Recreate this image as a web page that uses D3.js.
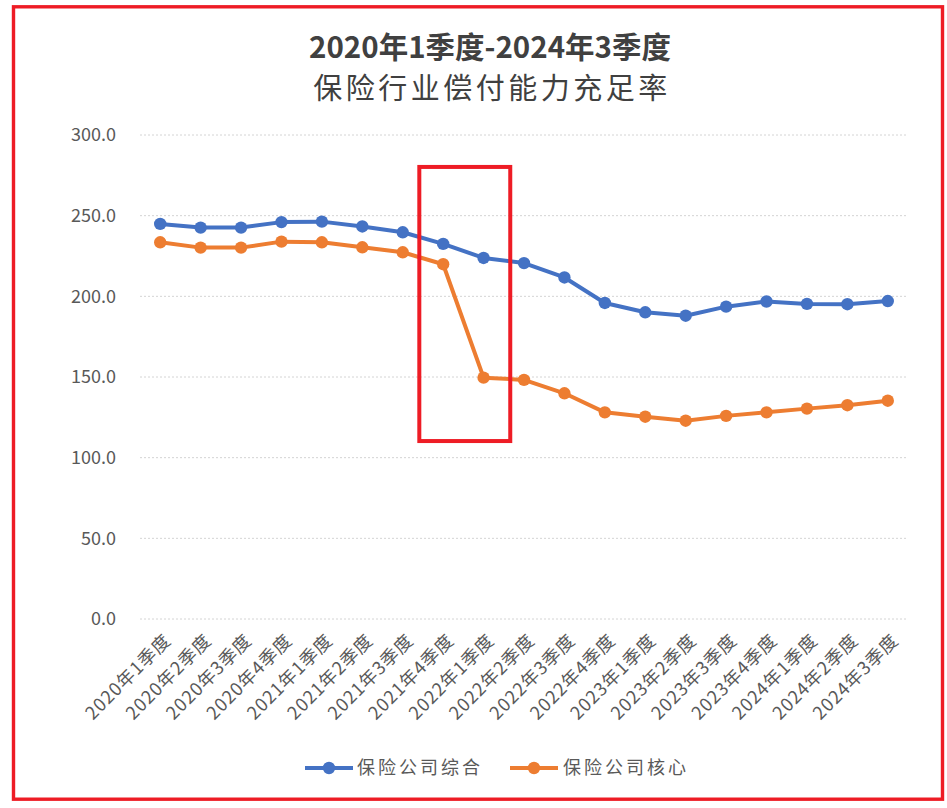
<!DOCTYPE html>
<html>
<head>
<meta charset="utf-8">
<script src="https://cdn.jsdelivr.net/npm/d3@7"></script>
<style>
  html, body { margin: 0; padding: 0; background: #fff; }
  svg { display: block; }
  text { font-family: "Noto Sans CJK SC", "Noto Sans", sans-serif; }
</style>
</head>
<body>
<svg id="chart" width="947" height="808"></svg>
<script>
const categories = [
  "2020年1季度","2020年2季度","2020年3季度","2020年4季度",
  "2021年1季度","2021年2季度","2021年3季度","2021年4季度",
  "2022年1季度","2022年2季度","2022年3季度","2022年4季度",
  "2023年1季度","2023年2季度","2023年3季度","2023年4季度",
  "2024年1季度","2024年2季度","2024年3季度"
];
const comprehensive = [244.9, 242.6, 242.6, 246.0, 246.3, 243.3, 239.7, 232.5, 223.8, 220.6, 211.7, 195.9, 190.1, 188.0, 193.6, 196.8, 195.3, 195.1, 197.1];
const core = [233.5, 230.2, 230.2, 233.9, 233.5, 230.4, 227.3, 219.9, 149.6, 148.2, 139.9, 128.1, 125.4, 122.9, 125.9, 128.1, 130.4, 132.5, 135.3];
const seriesNames = ["保险公司综合", "保险公司核心"];
const seriesColors = ["#4472C4", "#ED7D31"];
const yTicks = [0, 50, 100, 150, 200, 250, 300];
const titleLines = ["2020年1季度-2024年3季度", "保险行业偿付能力充足率"];

const svg = d3.select("#chart");
const plot = { left: 140, right: 908, top: 135, bottom: 619 };

const x = d3.scalePoint().domain(categories).range([plot.left, plot.right]).padding(0.5);
const y = d3.scaleLinear().domain([0, 300]).range([plot.bottom, plot.top]);

// outer red frame
svg.append("rect").attr("x", 13.5).attr("y", 6.8).attr("width", 929).attr("height", 792.4)
  .attr("fill", "none").attr("stroke", "#EE1C25").attr("stroke-width", 3.4);

// title
svg.append("text").attr("x", 490).attr("y", 58).attr("text-anchor", "middle")
  .attr("font-size", 29.5).attr("font-weight", "bold").attr("fill", "#404040")
  .text(titleLines[0]);
svg.append("text").attr("x", 492).attr("y", 99).attr("text-anchor", "middle")
  .attr("font-size", 29).attr("letter-spacing", 3.5).attr("fill", "#404040")
  .text(titleLines[1]);

// gridlines
svg.append("g").selectAll("line").data(yTicks).join("line")
  .attr("x1", plot.left).attr("x2", plot.right)
  .attr("y1", d => y(d)).attr("y2", d => y(d))
  .attr("stroke", "#d4d4d4").attr("stroke-width", 1).attr("stroke-dasharray", "2,2");

// y axis labels
const yAxis = d3.axisLeft(y).tickValues(yTicks).tickFormat(d3.format(".1f")).tickSize(0).tickPadding(24);
const gy = svg.append("g").attr("transform", `translate(${plot.left},0)`).call(yAxis);
gy.select(".domain").remove();
gy.selectAll("text").attr("font-size", 18).attr("fill", "#595959")
  .style("font-family", '"Noto Sans CJK SC", sans-serif');

// x axis labels
const xAxis = d3.axisBottom(x).tickSize(0).tickPadding(0);
const gx = svg.append("g").attr("transform", `translate(0,${plot.bottom})`).call(xAxis);
gx.select(".domain").remove();
gx.selectAll("text")
  .attr("font-size", 18).attr("letter-spacing", 1).attr("fill", "#595959")
  .style("font-family", '"Noto Sans CJK SC", sans-serif')
  .attr("text-anchor", "end")
  .attr("dy", "0.35em").attr("y", 0)
  .attr("transform", "translate(7,18) rotate(-45)");

// lines and markers
const lineGen = d3.line().x((d, i) => x(categories[i])).y(d => y(d));
[comprehensive, core].forEach((vals, si) => {
  svg.append("path").datum(vals).attr("d", lineGen)
    .attr("fill", "none").attr("stroke", seriesColors[si]).attr("stroke-width", 4)
    .attr("stroke-linejoin", "round");
  svg.append("g").selectAll("circle").data(vals).join("circle")
    .attr("cx", (d, i) => x(categories[i])).attr("cy", d => y(d)).attr("r", 6.2)
    .attr("fill", seriesColors[si]);
});

// highlight box (annotation around 2021Q4 -> 2022Q1 drop)
const step = x.step();
const boxX0 = x(categories[7]) - 0.59 * step, boxX1 = x(categories[8]) + 0.66 * step;
svg.append("rect").attr("x", boxX0).attr("y", y(280.2))
  .attr("width", boxX1 - boxX0).attr("height", y(110.3) - y(280.2))
  .attr("fill", "none").attr("stroke", "#EE1C25").attr("stroke-width", 4);

// legend
const legendItems = [{ x0: 305, tx: 357 }, { x0: 510, tx: 563 }];
const ly = 768;
legendItems.forEach((li, i) => {
  const g = svg.append("g");
  g.append("line").attr("x1", li.x0).attr("x2", li.x0 + 48).attr("y1", ly).attr("y2", ly)
    .attr("stroke", seriesColors[i]).attr("stroke-width", 4);
  g.append("circle").attr("cx", li.x0 + 24).attr("cy", ly).attr("r", 6.2).attr("fill", seriesColors[i]);
  g.append("text").attr("x", li.tx).attr("y", ly).attr("dy", "0.35em")
    .attr("font-size", 18).attr("letter-spacing", 3).attr("fill", "#595959")
    .text(seriesNames[i]);
});
</script>
</body>
</html>
